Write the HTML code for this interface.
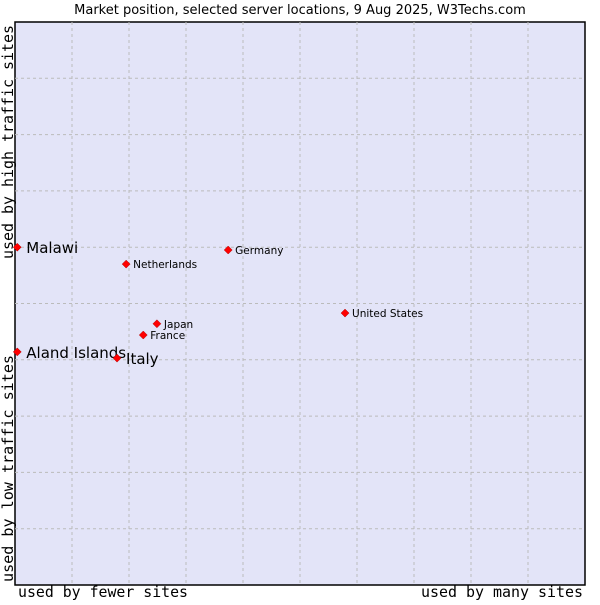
<!DOCTYPE html>
<html><head><meta charset="utf-8"><style>
body{margin:0;background:#fff;}
svg text{font-family:"DejaVu Sans","Liberation Sans",sans-serif;}
.mono{font-family:"DejaVu Sans Mono","Liberation Mono",monospace;}
</style></head><body>
<svg id="c" width="600" height="600" viewBox="0 0 600 600">
<text x="300" y="14" text-anchor="middle" font-size="13" fill="#000">Market position, selected server locations, 9 Aug 2025, W3Techs.com</text>
<rect x="15" y="22" width="570" height="563" fill="#e3e4f8" stroke="#000" stroke-width="1.5"/>
<g id="grid"></g>
<g id="pts"></g>
<text class="mono" x="18" y="597" font-size="15" textLength="170" lengthAdjust="spacingAndGlyphs">used by fewer sites</text>
<text class="mono" x="421" y="597" font-size="15" textLength="162" lengthAdjust="spacingAndGlyphs">used by many sites</text>
<text class="mono" transform="translate(13,582) rotate(-90)" font-size="15" textLength="227" lengthAdjust="spacingAndGlyphs">used by low traffic sites</text>
<text class="mono" transform="translate(13,259) rotate(-90)" font-size="15" textLength="234" lengthAdjust="spacingAndGlyphs">used by high traffic sites</text>
</svg>
<script>
const names=["Malawi","Netherlands","Germany","United States","Japan","France","Aland Islands","Italy"];
const xs=[0.4,19.5,37.4,57.9,24.9,22.5,0.4,17.9];
const ys=[60.0,57.0,59.5,48.3,46.4,44.4,41.4,40.3];
const big=[true,false,false,false,false,false,true,true];
const L=15,R=585,T=22,B=585;
const sx=v=>L+v/100*(R-L), sy=v=>B-v/100*(B-T);
const ns="http://www.w3.org/2000/svg";
const g=document.getElementById('grid'), p=document.getElementById('pts');
for(let i=1;i<10;i++){
 const x=sx(i*10),l=document.createElementNS(ns,'line');
 l.setAttribute('x1',x);l.setAttribute('x2',x);l.setAttribute('y1',T);l.setAttribute('y2',B);
 l.setAttribute('stroke','#bbb');l.setAttribute('stroke-dasharray','3,3');
 
 
 g.appendChild(l);
 const y=sy(i*10),m=document.createElementNS(ns,'line');
 m.setAttribute('x1',L);m.setAttribute('x2',R);m.setAttribute('y1',y);m.setAttribute('y2',y);
 m.setAttribute('stroke','#bbb');m.setAttribute('stroke-dasharray','3,3');
 
 
 g.appendChild(m);
}
names.forEach((n,i)=>{
 const x=sx(xs[i]),y=sy(ys[i]);
 const d=document.createElementNS(ns,'path');
 d.setAttribute('d',`M${x},${y-4}L${x+4},${y}L${x},${y+4}L${x-4},${y}Z`);
 d.setAttribute('fill','#f00');d.setAttribute('stroke','#a00');d.setAttribute('stroke-width','0.5');
 
 
 p.appendChild(d);
 const t=document.createElementNS(ns,'text');
 t.setAttribute('x',x+(big[i]?9:7));t.setAttribute('y',y+(big[i]?6:4));
 t.setAttribute('font-size',big[i]?'15':'10.5');
 t.textContent=n;
 
 
 p.appendChild(t);
});
</script>
</body></html>
